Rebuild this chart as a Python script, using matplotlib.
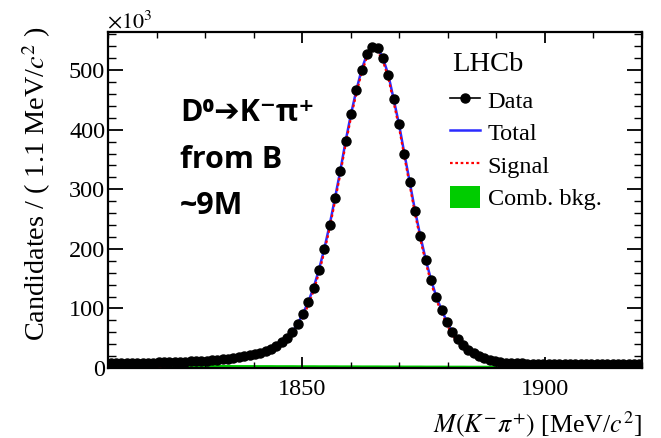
import numpy as np
import matplotlib.pyplot as plt
from matplotlib.ticker import MultipleLocator
from matplotlib.lines import Line2D
from matplotlib.patches import Patch

plt.rcParams['font.family'] = 'Liberation Serif'
plt.rcParams['mathtext.fontset'] = 'stix'

# D0 -> K- pi+ mass fit, 100 bins of 1.1 MeV in [1810, 1920]
mass_lo = 1810.0
bin_w = 1.1

# candidates per bin (x10^3)
counts = [
    8.6, 8.6, 8.7, 8.7, 8.8, 8.9, 9.0, 9.1, 9.2, 9.4,
    9.6, 9.8, 10.0, 10.3, 10.6, 11.0, 11.4, 11.9, 12.4, 13.0,
    13.7, 14.5, 15.4, 16.5, 17.8, 19.4, 21.2, 23.3, 25.8, 28.6,
    32, 37, 43, 51, 60, 74, 91, 111, 135, 165,
    200, 240, 285, 331, 381, 426, 466, 501, 527, 538,
    537, 520, 492, 451, 409, 360, 312, 264, 221, 182,
    148, 119, 97, 77, 60, 48, 38, 31, 25, 20,
    16, 13, 11, 9.6, 8.8, 8.2, 7.8, 7.6, 7.4, 7.3,
    7.2, 7.1, 7.0, 7.0, 6.9, 6.9, 6.8, 6.8, 6.8, 6.7,
    6.7, 6.7, 6.6, 6.6, 6.6, 6.5, 6.5, 6.5, 6.5, 6.4,
]

# combinatorial background component (x10^3)
comb = [
    6.4, 6.4, 6.4, 6.3, 6.3, 6.3, 6.3, 6.2, 6.2, 6.2,
    6.2, 6.1, 6.1, 6.1, 6.1, 6.0, 6.0, 6.0, 6.0, 5.9,
    5.9, 5.9, 5.9, 5.8, 5.8, 5.8, 5.8, 5.7, 5.7, 5.7,
    5.7, 5.6, 5.6, 5.6, 5.6, 5.5, 5.5, 5.5, 5.5, 5.4,
    5.4, 5.4, 5.4, 5.3, 5.3, 5.3, 5.3, 5.2, 5.2, 5.2,
    5.2, 5.1, 5.1, 5.1, 5.1, 5.0, 5.0, 5.0, 5.0, 4.9,
    4.9, 4.9, 4.9, 4.8, 4.8, 4.8, 4.8, 4.7, 4.7, 4.7,
    4.7, 4.6, 4.6, 4.6, 4.6, 4.5, 4.5, 4.5, 4.5, 4.4,
    4.4, 4.4, 4.4, 4.3, 4.3, 4.3, 4.3, 4.2, 4.2, 4.2,
    4.2, 4.1, 4.1, 4.1, 4.1, 4.0, 4.0, 4.0, 4.0, 3.9,
]

# total fit follows the data within the errors
total_fit = counts

centers = mass_lo + bin_w * (np.arange(len(counts)) + 0.5)
total = np.array(total_fit)
signal = total - np.array(comb)

blue = '#2b2bff'
green = '#00cc00'
sig_style = (0, (1.2, 1.2))

fig = plt.figure(figsize=(6.61, 4.38), dpi=100)
ax = fig.add_axes([108/661, 70/438, 534/661, 336/438])

ax.fill_between(centers, 0, comb, color=green, lw=0, zorder=1)
ax.plot(centers, total, color=blue, lw=1.8, zorder=2)
ax.plot(centers, signal, color='red', lw=1.6, ls=sig_style, zorder=3)
ax.plot(centers, counts, 'o', color='black', ms=6.5, zorder=4)

ax.set_xlim(1810, 1920)
ax.set_ylim(0, 564)
ax.xaxis.set_major_locator(MultipleLocator(50))
ax.xaxis.set_minor_locator(MultipleLocator(10))
ax.yaxis.set_major_locator(MultipleLocator(100))
ax.yaxis.set_minor_locator(MultipleLocator(20))
ax.tick_params(which='both', direction='in', top=True, right=True,
               labelsize=17.5, color='black')
ax.tick_params(axis='y', which='major', length=11, width=1.3, pad=2)
ax.tick_params(axis='y', which='minor', length=5.5, width=1)
ax.tick_params(axis='x', which='major', length=8, width=1.3, pad=8)
ax.tick_params(axis='x', which='minor', length=4, width=1)
for s in ax.spines.values():
    s.set_linewidth(1.6)

fig.text(37/661, 1 - 26/438, 'Candidates / ( 1.1 MeV/$c^{2}$ )',
         rotation=90, ha='center', va='top', fontsize=20.3)
fig.text(642/661, 1 - 432/438, r'$M(K^{-}\pi^{+})$ [MeV/$c^{2}$]',
         ha='right', va='baseline', fontsize=18.6)
fig.text(107/661, 1 - 28/438, r'$\times10^{3}$', ha='left', va='baseline',
         fontsize=16)

fig.text(452/661, 1 - 71/438, 'LHCb', fontsize=20.5, va='baseline')

handles = [
    Line2D([], [], color='black', marker='o', ms=6.5, lw=1.2),
    Line2D([], [], color=blue, lw=1.8),
    Line2D([], [], color='red', lw=1.6, ls=sig_style),
    Patch(facecolor=green, edgecolor='none'),
]
labels = ['Data', 'Total', 'Signal', 'Comb. bkg.']
fig.legend(handles, labels, loc='upper left',
           bbox_to_anchor=(450/661, 1 - 88/438), frameon=False, fontsize=17.5,
           handlelength=1.25, handleheight=1.05, handletextpad=0.3,
           labelspacing=0.33, borderpad=0, borderaxespad=0)

bold = dict(family=['Open Sans', 'DejaVu Sans'], weight='bold', fontsize=22,
            ha='left', va='baseline')
fig.text(180/661, 1 - 121/438, 'D⁰➔K⁻π⁺', **bold)
fig.text(180/661, 1 - 168/438, 'from B', **bold)
fig.text(180/661, 1 - 214/438, '~9M', **bold)

fig.savefig('out.png', dpi=100)
